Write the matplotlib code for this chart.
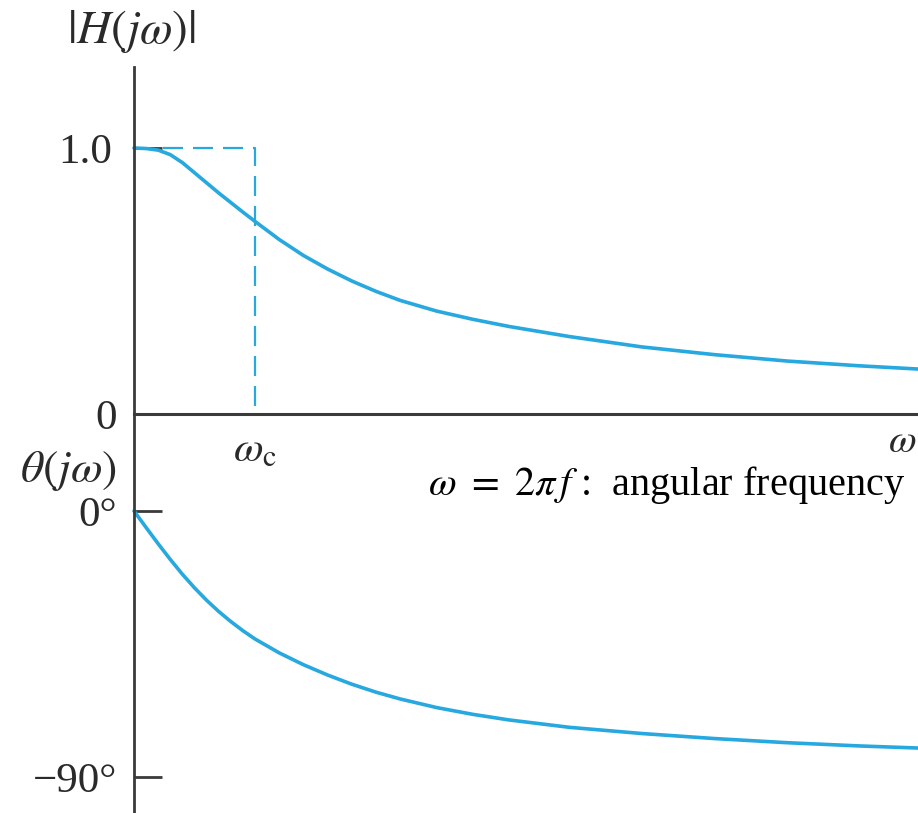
import matplotlib
matplotlib.use("Agg")
import matplotlib.pyplot as plt

plt.rcParams['mathtext.fontset'] = 'stix'
plt.rcParams['font.family'] = ['Liberation Serif', 'DejaVu Serif']

# ---- data (x in units of omega / omega_c) ----
w_mag = [0.0, 0.1, 0.2, 0.3, 0.4, 0.5, 0.6, 0.7, 0.8, 0.9, 1.0, 1.2, 1.4, 1.6,
         1.8, 2.0, 2.2, 2.5, 2.8, 3.1, 3.6, 4.2, 4.8, 5.4, 6.0, 6.48]
mag = [1.0, 0.998, 0.992, 0.975, 0.945, 0.907, 0.869, 0.831, 0.795, 0.759,
       0.724, 0.656, 0.596, 0.545, 0.500, 0.461, 0.427, 0.387, 0.356, 0.329,
       0.291, 0.252, 0.223, 0.199, 0.181, 0.169]

w_ph = [0.0, 0.1, 0.2, 0.3, 0.4, 0.5, 0.6, 0.7, 0.8, 0.9, 1.0, 1.2, 1.4, 1.6,
        1.8, 2.0, 2.2, 2.5, 2.8, 3.1, 3.6, 4.2, 4.8, 5.4, 6.0, 6.48]
phase = [0.0, -5.6, -11.1, -16.4, -21.4, -26.0, -30.2, -34.0, -37.4, -40.5,
         -43.3, -48.0, -52.0, -55.5, -58.6, -61.3, -63.6, -66.5, -68.8, -70.7,
         -73.2, -75.3, -77.0, -78.4, -79.5, -80.2]

wc = 1.0
mag_ticks = [0, 1.0]
mag_tick_labels = ['0', '1.0']
ph_ticks = [0, -90]
ph_tick_labels = ['0°', '−90°']

curve_col = '#27a8df'
axis_col = '#3a3a3a'
text_col = '#2a2a2a'

fig = plt.figure(figsize=(9.18, 8.13), dpi=100)
left = 134 / 918
width = 1 - left
ax1 = fig.add_axes([left, 1 - 414 / 813, width, (414 - 67) / 813])
ax2 = fig.add_axes([left, 0, width, 1 - 414 / 813])
for ax in (ax1, ax2):
    ax.patch.set_alpha(0)
    ax.set_xlim(0, 6.479)
    for s in ax.spines.values():
        s.set_visible(False)
    ax.spines['left'].set_visible(True)
    ax.spines['left'].set_color(axis_col)
    ax.spines['left'].set_linewidth(2.0)

ax1.spines['bottom'].set_visible(True)
ax1.spines['bottom'].set_color(axis_col)
ax1.spines['bottom'].set_linewidth(2.2)

ax1.set_ylim(0, (414 - 67) / 266)
ax2.set_ylim(-(813 - 511) / 266 * 90, (511 - 414) / 266 * 90)

# magnitude
ax1.plot(w_mag, mag, color=curve_col, lw=2.6, solid_capstyle='round',
         solid_joinstyle='round', clip_on=False)
ax1.plot([0.24, wc, wc], [1.0, 1.0, 0], color=curve_col, lw=1.6,
         dashes=(9, 4.5))

ax1.set_yticks(mag_ticks)
ax1.set_yticklabels(mag_tick_labels)
ax1.tick_params(axis='y', direction='in', length=20, width=2, color=axis_col,
                pad=12, labelsize=31, labelcolor=text_col)
ax1.yaxis.get_major_ticks()[1].set_pad(16)
ax1.set_xticks([wc])
ax1.set_xticklabels([r'$\omega_{\rm c}$'])
ax1.tick_params(axis='x', length=0, pad=13, labelsize=31, labelcolor=text_col)

ax1.text(-0.025, (414 - 32) / 266, r'$|H(j\omega)|$', ha='center', va='center',
         fontsize=34, color=text_col, clip_on=False)

# phase
ax2.plot(w_ph, phase, color=curve_col, lw=2.6, solid_capstyle='round',
         solid_joinstyle='round', clip_on=False)
ax2.set_xticks([])
ax2.set_yticks(ph_ticks)
ax2.set_yticklabels(ph_tick_labels)
ax2.tick_params(axis='y', direction='in', length=20, width=2, color=axis_col,
                pad=12, labelsize=31, labelcolor=text_col)

ax2.text(-0.14, (511 - 471) / 266 * 90, r'$\theta(j\omega)$', ha='right', va='center',
         fontsize=33, color=text_col)
ax2.text((902 - 134) / 121, (511 - 442) / 266 * 90, r'$\omega$', ha='center', va='center',
         fontsize=29, color=text_col)
ax2.text((428 - 134) / 121, (511 - 485) / 266 * 90,
         r'$\omega\ =\ 2\pi\, f\ $:  angular frequency', ha='left', va='center',
         fontsize=29, color='black')

fig.savefig('out.png', dpi=100)
